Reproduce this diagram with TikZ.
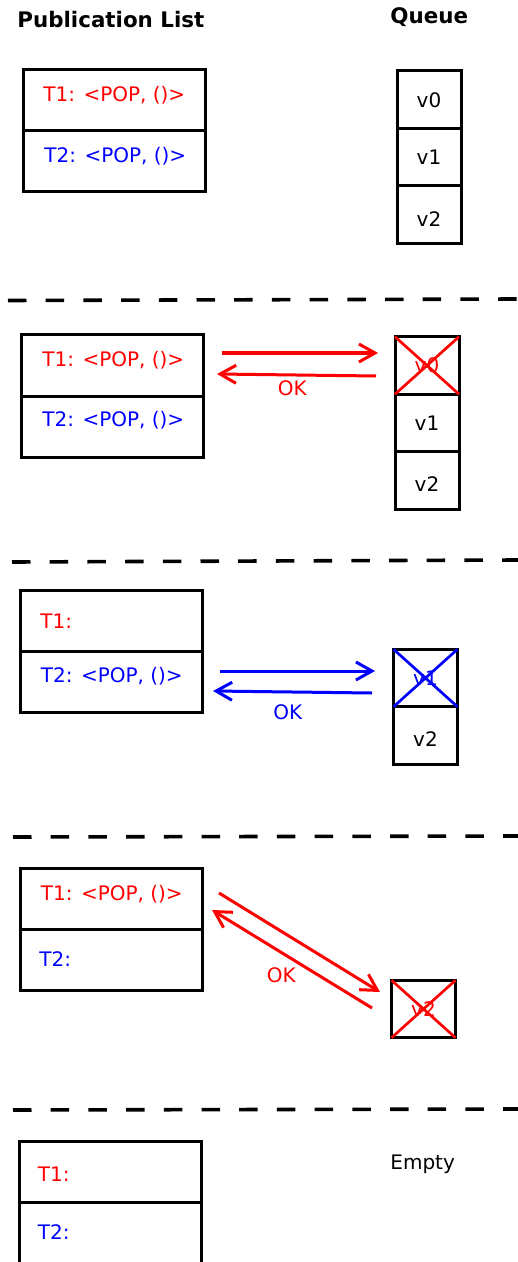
\documentclass[tikz,border=0pt]{standalone}
\usepackage{fontspec}
\setmainfont{DejaVu Sans}
\usetikzlibrary{positioning,arrows.meta}
\begin{document}
\begin{tikzpicture}[x=.5pt,y=-.5pt,font=\fontsize{10}{12}\selectfont,
 pcell/.style={draw,line width=1.5pt,minimum width=91pt,minimum height=30.5pt,inner sep=0pt,outer sep=0pt},
 qcell/.style={draw,line width=1.5pt,minimum width=32pt,minimum height=28.75pt,inner sep=0pt,outer sep=0pt},
 txt/.style={anchor=base west,inner sep=0pt},
 ttl/.style={txt,font=\fontsize{10.7}{13}\selectfont\bfseries},
 msg/.style={line width=1.5pt,-{Straight Barb[length=8pt,width=9pt]}},
 xout/.style={line width=1.35pt},
 sep/.style={line width=1.8pt,dash pattern=on 9.25pt off 9.6pt},
 low/.style={yshift=-2pt}]
\useasboundingbox(0,0)rectangle(518,1262);
\node[ttl](pubttl)at(17,27.7){Publication List};\node[ttl](queuettl)at(390,23.3){Queue};
% state 1: both pops pending
\node[pcell](p1t1)at(114,100.5){};\node[pcell,below=0pt of p1t1](p1t2){};
\node[txt,red](p1n1)at(43,102){T1: <POP, ()>};\node[txt,blue](p1n2)at(44,163){T2: <POP, ()>};
\node[qcell,label=center:v0](p1v0)at(429,99.75){};\node[qcell,below=0pt of p1v0,label=center:v1](p1v1){};
\node[qcell,below=0pt of p1v1,label={[low]center:v2}](p1v2){};
\draw[sep](8,300.5)--(518,299);
% state 2: T1 takes v0
\node[pcell](p2t1)at(112.5,365.5){};\node[pcell,below=0pt of p2t1](p2t2){};
\node[txt,red](p2n1)at(42,366){T1: <POP, ()>};\node[txt,blue](p2n2)at(42,426){T2: <POP, ()>};
\node[qcell,label={[red]center:v0}](p2v0)at(427,365.5){};\node[qcell,below=0pt of p2v0,label=center:v1](p2v1){};
\node[qcell,below=0pt of p2v1,label={[low]center:v2}](p2v2){};
\draw[red,xout](p2v0.north west)--(p2v0.south east)(p2v0.south west)--(p2v0.north east);
\coordinate(p2a)at(222,353);\coordinate(p2b)at(378,353);\coordinate(p2c)at(376,376);\coordinate(p2d)at(217,374);
\draw[msg,red](p2a)--(p2b);\draw[msg,red](p2c)--(p2d);
\node[txt,red](p2ok)at(277.5,395.7){OK};
\draw[sep](12,562)--(518,560);
% state 3: T2 takes v1
\node[pcell](p3t1)at(111,621){};\node[pcell,below=0pt of p3t1](p3t2){};
\node[txt,red](p3n1)at(40,628.3){T1:};\node[txt,blue](p3n2)at(40.5,682.3){T2: <POP, ()>};
\node[qcell,label={[blue]center:v1}](p3v1)at(425.5,678){};\node[qcell,below=0pt of p3v1,label={[low]center:v2}](p3v2){};
\draw[blue,xout](p3v1.north west)--(p3v1.south east)(p3v1.south west)--(p3v1.north east);
\coordinate(p3a)at(220,671);\coordinate(p3b)at(375,671);\coordinate(p3c)at(372,693);\coordinate(p3d)at(213,691);
\draw[msg,blue](p3a)--(p3b);\draw[msg,blue](p3c)--(p3d);
\node[txt,blue](p3ok)at(273,719.3){OK};
\draw[sep](13,837)--(518,836);
% state 4: T1 takes v2
\node[pcell](p4t1)at(111,899){};\node[pcell,below=0pt of p4t1](p4t2){};
\node[txt,red](p4n1)at(40.5,900){T1: <POP, ()>};\node[txt,blue](p4n2)at(39,966.7){T2:};
\node[qcell,label={[red]center:v2}](p4v2)at(423.5,1009){};
\draw[red,xout](p4v2.north west)--(p4v2.south east)(p4v2.south west)--(p4v2.north east);
\coordinate(p4a)at(219,893);\coordinate(p4b)at(380,992);\coordinate(p4c)at(372,1008);\coordinate(p4d)at(212,910);
\draw[msg,red](p4a)--(p4b);\draw[msg,red](p4c)--(p4d);
\node[txt,red](p4ok)at(266.5,982.3){OK};
\draw[sep](13,1110)--(518,1109);
% state 5: nothing left
\node[pcell](p5t1)at(110,1172){};\node[pcell,below=0pt of p5t1,minimum height=32pt](p5t2){};
\node[txt,red](p5n1)at(37.5,1181){T1:};\node[txt,blue](p5n2)at(37.5,1239.3){T2:};
\node[txt](empty)at(390,1169){Empty};
\end{tikzpicture}
\end{document}
